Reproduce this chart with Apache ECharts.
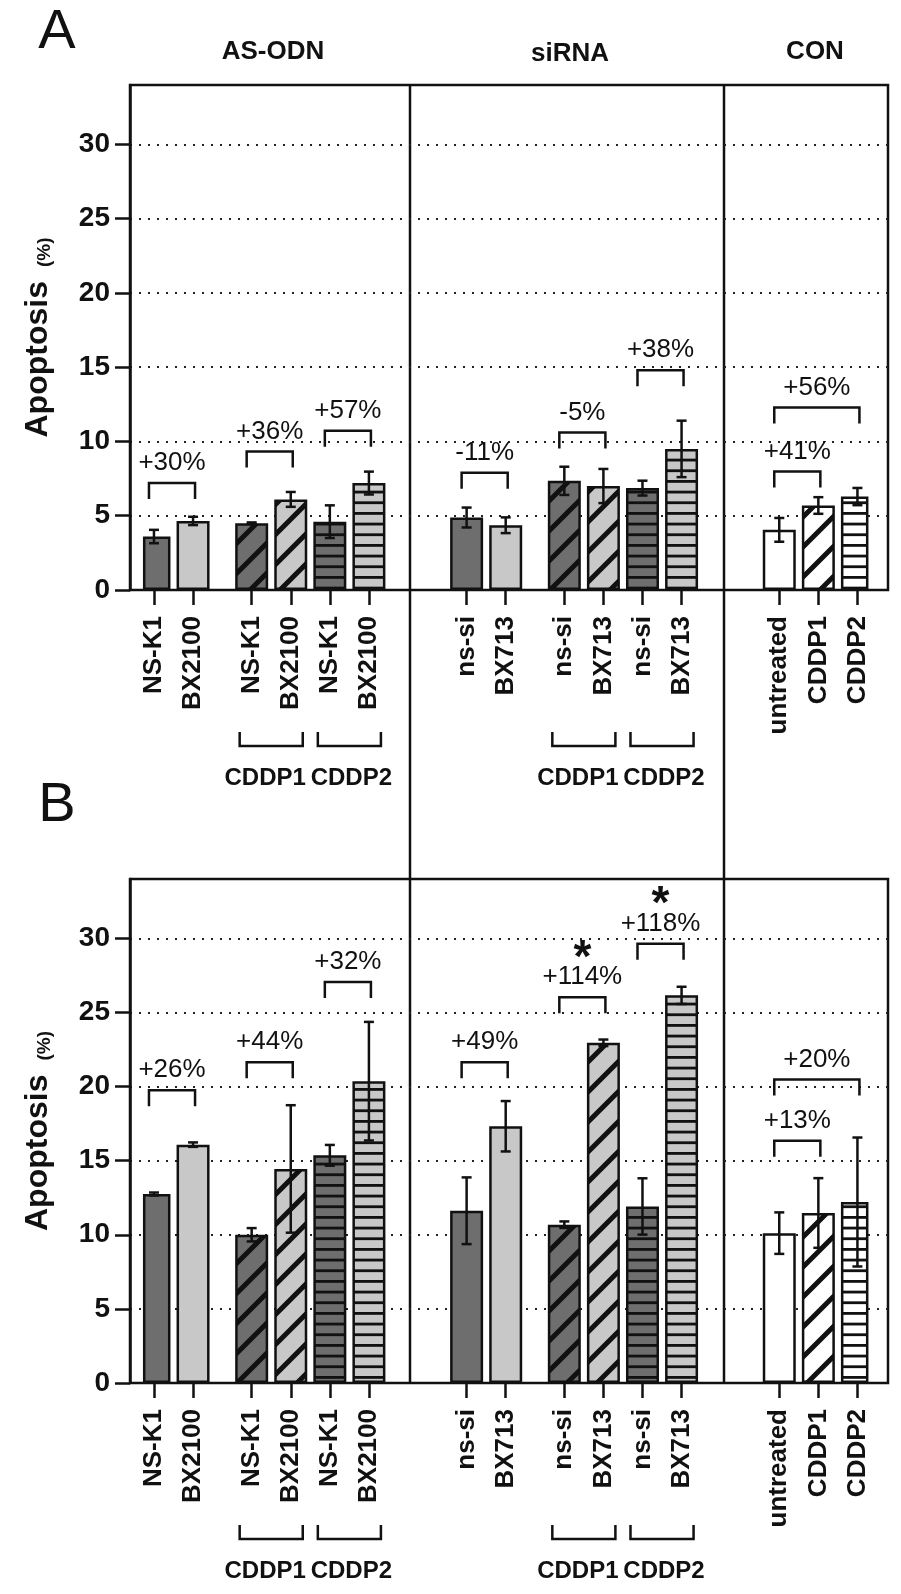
<!DOCTYPE html>
<html>
<head>
<meta charset="utf-8">
<script src="https://cdn.jsdelivr.net/npm/echarts@6/dist/echarts.min.js"></script>
<style>html,body{margin:0;padding:0;background:#fff}#c{width:901px;height:1594px}</style>
</head>
<body>
<div id="c"></div>
<script>
// ---------- data ----------
const categories = ['NS-K1','','BX2100','','','NS-K1','','BX2100','','NS-K1','','BX2100','','','','',
  'ns-si','','BX713','','','ns-si','','BX713','','ns-si','','BX713','','','','',
  'untreated','','CDDP1','','CDDP2'];
const fillKinds = ['dark','light','darkHatch','lightHatch','darkStripe','lightStripe',
  'dark','light','darkHatch','lightHatch','darkStripe','lightStripe',
  'white','whiteHatch','whiteStripe'];
const valuesA = [3.6, 4.65, 4.5, 6.1, 4.6, 7.2, 4.88, 4.36, 7.35, 7.0, 6.86, 9.5, 4.05, 5.69, 6.29];
const errA    = [0.45, 0.28, 0.05, 0.5, 1.1, 0.77, 0.67, 0.53, 0.95, 1.15, 0.5, 1.9, 0.8, 0.56, 0.58];
const valuesB = [12.75, 16.08, 10.0, 14.44, 15.36, 20.36, 11.62, 17.32, 10.68, 22.95, 11.91, 26.15, 10.11, 11.47, 12.21];
const errB    = [0.1, 0.15, 0.45, 4.3, 0.7, 4.0, 2.25, 1.7, 0.22, 0.22, 1.9, 0.58, 1.4, 2.35, 4.35];
const yTicks = [0, 5, 10, 15, 20, 25, 30];
// [fromBar, toBar, bracketLevel, text, star]
const annA = [[0,1,7.2,'+30%',''],[2,3,9.33,'+36%',''],[4,5,10.72,'+57%',''],
  [6,7,7.9,'-11%',''],[8,9,10.6,'-5%',''],[10,11,14.79,'+38%',''],
  [12,13,7.98,'+41%',''],[12,14,12.29,'+56%','']];
const annB = [[0,1,19.75,'+26%',''],[2,3,21.64,'+44%',''],[4,5,27.05,'+32%',''],
  [6,7,21.64,'+49%',''],[8,9,26.03,'+114%','*'],[10,11,29.64,'+118%','*'],
  [12,13,16.35,'+13%',''],[12,14,20.47,'+20%','']];
const groupLabels = [[2,3,'CDDP1'],[4,5,'CDDP2'],[8,9,'CDDP1'],[10,11,'CDDP2']];
const sectionNames = ['AS-ODN','siRNA','CON'];
const panelNames = ['A','B'];
const yName = 'Apoptosis';
const yUnit = '(%)';

// ---------- styles ----------
const FF = '"Liberation Sans", Arial, Helvetica, sans-serif';
const INK = '#111';
const DARK = '#6e6e6e', LIGHT = '#c8c8c8', WHITE = '#ffffff';
function hatch(bg){
  const T = 30, c = document.createElement('canvas'); c.width = T; c.height = T;
  const g = c.getContext('2d'); g.fillStyle = bg; g.fillRect(0,0,T,T);
  g.strokeStyle = INK; g.lineWidth = 5; g.beginPath();
  for (const s of [0, T, 2*T]) { g.moveTo(s - T - 3, T + 3); g.lineTo(s + 3, -3); }
  g.stroke();
  return {image: c, repeat: 'repeat'};
}
function stripe(bg){
  const W = 8, H = 32, c = document.createElement('canvas'); c.width = W; c.height = H;
  const g = c.getContext('2d'); g.fillStyle = bg; g.fillRect(0,0,W,H);
  g.fillStyle = INK;
  for (let i = 0; i < 3; i++) g.fillRect(0, i*H/3, W, 2.8);
  return {image: c, repeat: 'repeat'};
}
const fills = {
  dark: DARK, light: LIGHT, white: WHITE,
  darkHatch: hatch(DARK), lightHatch: hatch(LIGHT), whiteHatch: hatch(WHITE),
  darkStripe: stripe(DARK), lightStripe: stripe(LIGHT), whiteStripe: stripe(WHITE)
};

const barCats = [];
categories.forEach((c, i) => { if (c !== '') barCats.push(i); });

const panels = [
  {values: valuesA, err: errA, ann: annA, top: 85, height: 505},
  {values: valuesB, err: errB, ann: annB, top: 879, height: 504}
];
const FRAME_LEFT = 130, FRAME_W = 758, BAR_LEFT = 144.2, BAR_W = 723, YMAX = 34;

const grid = [], xAxis = [], yAxis = [], series = [];
panels.forEach((p, pi) => {
  const gF = pi*2, gB = pi*2 + 1;
  grid.push({left: FRAME_LEFT, top: p.top, width: FRAME_W, height: p.height, show: true,
    borderColor: INK, borderWidth: 2.5, backgroundColor: 'transparent'});
  grid.push({left: BAR_LEFT, top: p.top, width: BAR_W, height: p.height});
  xAxis.push({gridIndex: gF, type: 'value', show: false, min: 0, max: 1});
  xAxis.push({gridIndex: gB, type: 'category', data: categories,
    axisLine: {show: false},
    axisTick: {show: true, alignWithLabel: true, length: 15,
      interval: (idx, val) => val !== '', lineStyle: {color: INK, width: 2.5}},
    axisLabel: {interval: 0, rotate: 90, margin: 26, color: INK,
      fontFamily: FF, fontWeight: 'bold', fontSize: 26}
  });
  yAxis.push({gridIndex: gF, type: 'value', min: 0, max: YMAX,
    name: '{a|' + yName + '}{b|' + yUnit + '}', nameLocation: 'middle', nameGap: 76, nameRotate: 90,
    nameTextStyle: {color: INK, rich: {
      a: {fontFamily: FF, fontWeight: 'bold', fontSize: 32, color: INK, verticalAlign: 'bottom', lineHeight: 36},
      b: {fontFamily: FF, fontWeight: 'bold', fontSize: 19, color: INK, verticalAlign: 'bottom', lineHeight: 36,
          padding: [0, 0, 0, 14]}
    }},
    axisLine: {show: true, lineStyle: {color: INK, width: 2.5}},
    axisTick: {show: true, length: 15, customValues: yTicks, lineStyle: {color: INK, width: 2.5}},
    axisLabel: {customValues: yTicks, margin: 20, color: INK, fontFamily: FF, fontWeight: 'bold', fontSize: 28,
      formatter: v => (v % 5 === 0 ? String(v) : '')},
    splitLine: {show: true, showMinLine: false, showMaxLine: true,
      lineStyle: {color: '#222', width: 2, type: [2, 7]}}
  });
  yAxis.push({gridIndex: gB, type: 'value', min: 0, max: YMAX, show: false, splitLine: {show: false}});

  const barData = categories.map((c, i) => {
    const k = barCats.indexOf(i);
    if (k < 0) return '-';
    return {value: p.values[k], itemStyle: {color: fills[fillKinds[k]]}};
  });
  series.push({type: 'bar', xAxisIndex: gB, yAxisIndex: gB, data: barData, barWidth: 33,
    itemStyle: {borderColor: INK, borderWidth: 2.5}, z: 2, silent: true});

  series.push({type: 'custom', xAxisIndex: gB, yAxisIndex: gB, z: 4, silent: true, clip: false,
    data: barCats.map((ci, k) => [ci, p.values[k], p.err[k]]),
    encode: {x: 0, y: 1},
    renderItem: (params, api) => {
      const x = api.value(0), v = api.value(1), e = api.value(2);
      const t = api.coord([x, v + e]), b = api.coord([x, v - e]);
      const st = {stroke: INK, lineWidth: 2.5};
      return {type: 'group', children: [
        {type: 'line', shape: {x1: t[0], y1: t[1], x2: b[0], y2: b[1]}, style: st},
        {type: 'line', shape: {x1: t[0]-5, y1: t[1], x2: t[0]+5, y2: t[1]}, style: st},
        {type: 'line', shape: {x1: b[0]-5, y1: b[1], x2: b[0]+5, y2: b[1]}, style: st}
      ]};
    }
  });

  series.push({type: 'custom', xAxisIndex: gB, yAxisIndex: gB, z: 4, silent: true, clip: false,
    data: p.ann.map(a => [barCats[a[0]], barCats[a[1]], a[2]]),
    encode: {x: [0, 1], y: 2},
    renderItem: (params, api) => {
      const a = p.ann[params.dataIndex];
      const p1 = api.coord([barCats[a[0]], a[2]]), p2 = api.coord([barCats[a[1]], a[2]]);
      const x1 = p1[0] - 5, x2 = p2[0] + 2, y = p1[1], cx = (x1 + x2) / 2;
      const ch = [
        {type: 'polyline', shape: {points: [[x1, y + 16], [x1, y], [x2, y], [x2, y + 16]]},
          style: {stroke: INK, lineWidth: 2.5, fill: 'none'}},
        {type: 'text', x: cx, y: y - 20, style: {text: a[3], font: '26px ' + FF, fill: INK,
          align: 'center', verticalAlign: 'middle', textAlign: 'center', textVerticalAlign: 'middle'}}
      ];
      if (a[4]) ch.push({type: 'text', x: cx, y: y - 38, style: {text: a[4], font: 'bold 46px ' + FF, fill: INK,
          align: 'center', verticalAlign: 'middle', textAlign: 'center', textVerticalAlign: 'middle'}});
      return {type: 'group', children: ch};
    }
  });

  series.push({type: 'custom', xAxisIndex: gB, yAxisIndex: gB, z: 4, silent: true, clip: false,
    data: groupLabels.map(g => [barCats[g[0]], 0]),
    encode: {x: 0, y: 1},
    renderItem: (params, api) => {
      const g = groupLabels[params.dataIndex];
      const p1 = api.coord([barCats[g[0]], 0]), p2 = api.coord([barCats[g[1]], 0]);
      const x1 = p1[0] - 12, x2 = p2[0] + 12, y0 = p1[1];
      const tx = (x1 + x2) / 2 + (params.dataIndex % 2 === 0 ? -6 : 2);
      return {type: 'group', children: [
        {type: 'polyline', shape: {points: [[x1, y0 + 142], [x1, y0 + 156], [x2, y0 + 156], [x2, y0 + 142]]},
          style: {stroke: INK, lineWidth: 2.5, fill: 'none'}},
        {type: 'text', x: tx, y: y0 + 188, style: {text: g[2], font: 'bold 24px ' + FF, fill: INK,
          align: 'center', verticalAlign: 'middle', textAlign: 'center', textVerticalAlign: 'middle'}}
      ]};
    }
  });
});

const txt = (s, x, y, font) => ({type: 'text', x: x, y: y, silent: true,
  style: {text: s, font: font, fill: INK, align: 'center', verticalAlign: 'middle',
    textAlign: 'center', textVerticalAlign: 'middle'}});
const graphic = [
  {type: 'line', silent: true, shape: {x1: 410, y1: 85, x2: 410, y2: 1383}, style: {stroke: INK, lineWidth: 2.5}},
  {type: 'line', silent: true, shape: {x1: 724, y1: 85, x2: 724, y2: 1383}, style: {stroke: INK, lineWidth: 2.5}},
  txt(panelNames[0], 57, 33, '56px ' + FF),
  txt(panelNames[1], 57, 806, '56px ' + FF),
  txt(sectionNames[0], 273, 52, 'bold 26px ' + FF),
  txt(sectionNames[1], 570, 54, 'bold 26px ' + FF),
  txt(sectionNames[2], 815, 52, 'bold 26px ' + FF)
];

const chart = echarts.init(document.getElementById('c'), null, {renderer: 'canvas'});
chart.setOption({animation: false, backgroundColor: '#fff', grid, xAxis, yAxis, series, graphic});
</script>
</body>
</html>
